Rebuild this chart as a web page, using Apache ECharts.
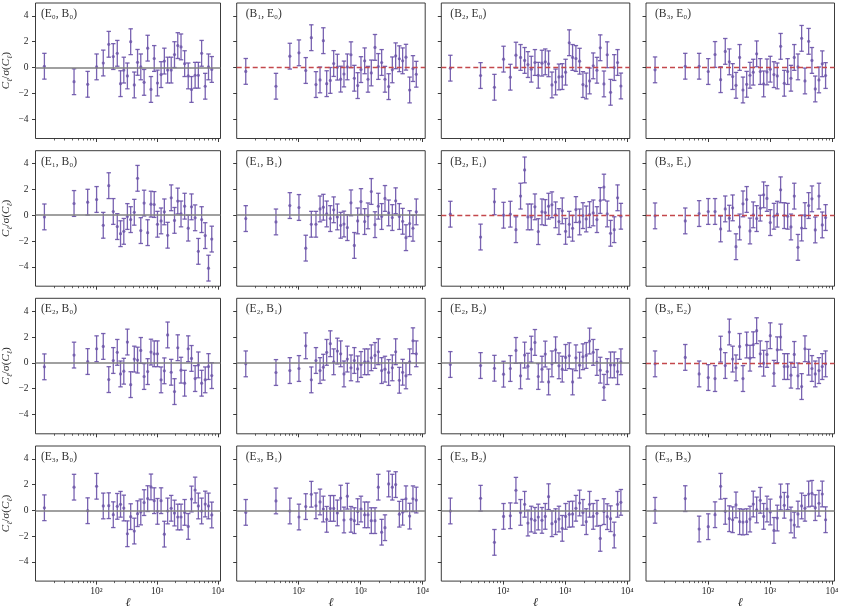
<!DOCTYPE html>
<html><head><meta charset="utf-8">
<script src="https://cdn.jsdelivr.net/npm/echarts@6/dist/echarts.min.js"></script>
<style>html,body{margin:0;padding:0;background:#fff}#c{width:843px;height:610px}</style>
</head><body><div id="c"></div>
<script>
// multipole bin centres (shared by all panels)
const ells = [14, 43, 72, 101, 130, 160, 190, 221, 250, 283, 324, 367, 421, 476, 538, 610, 698, 791, 895, 1012, 1160, 1313, 1486, 1703, 1928, 2181, 2468, 2829, 3243, 3670, 4209, 4757, 5383, 6170, 6982, 7900];
const sigma = 1; // values are in units of sigma(C_l)

const panelLabels = [
  '(E₀, B₀)', '(B₁, E₀)', '(B₂, E₀)', '(B₃, E₀)',
  '(E₁, B₀)', '(E₁, B₁)', '(B₂, E₁)', '(B₃, E₁)',
  '(E₂, B₀)', '(E₂, B₁)', '(E₂, B₂)', '(B₃, E₂)',
  '(E₃, B₀)', '(E₃, B₁)', '(E₃, B₂)', '(E₃, B₃)'
];

const E0B0 = [0.1, -1.1, -1.3, 0.05, 0.35, 1.8, 0.85, 1.1, -1.25, -0.2, -0.65, 2.0, -1.35, 0.4, 0.05, -1.15, 1.5, -1.7, 0.7, -1.2, -0.55, 0.5, -0.2, -0.2, 1.0, 1.7, 1.6, 0.3, -0.65, -1.7, -0.6, -0.6, 1.1, -1.45, 0.05, -0.15];
const B1E0 = [-0.3, -1.45, 0.88, 1.14, -0.23, 2.31, -1.32, -0.96, 2.08, -1.25, -1.0, 0.31, 0.03, -0.9, -0.5, 0.05, 0.99, -0.83, -1.4, -0.16, 0.52, -0.91, -0.42, 1.56, 0.08, 0.39, -0.91, -1.48, -0.18, 0.91, 0.68, 0.52, 0.8, -1.74, -0.08, -0.52];
const B2E0 = [-0.05, -0.62, -1.53, 0.65, -0.75, 0.96, 0.78, 0.55, 0.23, -0.13, 0.39, -0.6, 0.34, 0.44, 0.29, -1.35, -1.12, -0.73, -0.7, -0.36, 1.92, 0.78, 0.7, 0.49, -1.32, -1.43, -1.04, 0.13, -0.21, 1.53, -1.27, 0.99, -1.92, 0.0, 0.39, -1.43];
const B3E0 = [-0.18, 0.1, 0.1, -0.31, 1.01, -0.94, 1.25, 0.44, -0.7, -1.38, 0.78, -1.74, -1.3, -0.6, -0.36, 1.06, -0.31, -1.27, -0.34, -0.13, -0.55, -0.65, 1.64, -1.22, -0.31, -0.83, 0.78, 0.05, 2.26, -1.04, 2.03, 0.55, -1.66, -0.96, 0.29, -0.62];
const E1B0 = [-0.13, 0.91, 1.01, 1.22, -0.78, 2.29, 0.29, -0.88, -1.43, -1.25, -0.1, -0.34, 0.23, 2.86, -1.19, 0.94, -1.35, 0.86, 0.83, -0.7, -0.44, 0.26, -1.55, 1.35, -0.4, 1.1, 0.1, 0.7, -1.0, 0.65, -0.2, -2.8, -0.34, -1.58, -4.1, -1.85];
const E1B1 = [-0.26, -0.52, 0.75, 0.6, -2.55, -0.7, -0.7, 0.49, 0.62, 0.1, -0.26, 0.42, -0.13, -0.78, -0.68, -0.96, 0.96, -2.34, -0.44, 1.06, -0.49, -0.05, 1.84, -0.73, 0.7, -0.1, 1.3, 0.18, -0.18, 1.12, -0.1, -0.47, -1.74, -0.65, -1.01, 0.26];
const B2E1 = [0.08, -1.69, 1.04, 0, 0.08, -1.12, 1.48, 3.51, -0.13, -0.13, 0.65, -1.27, 0.26, 0.21, 0.7, 0.81, 0.03, -0.49, 0.34, -1.25, -0.7, -1.01, 0.44, -0.52, -0.03, -0.29, 0.05, 0.18, -0.34, 1.14, 2.18, 0.1, -1.4, -1.12, 1.35, -0.08];
const B3E1 = [-0.05, -0.44, 0.13, 0.29, 0.29, -1.06, 0.49, -0.23, 0.57, -2.44, -0.91, 0.88, 1.22, -1.22, 0.03, -0.26, 0.55, 1.58, 1.3, -0.57, -0.08, 0.08, 1.97, -0.03, -0.08, -0.91, 1.48, -2.49, -0.99, -0.03, 0.75, 1.27, -1.14, 1.48, -0.75, -0.18];
const E2B0 = [-0.31, 0.6, 0.1, 1.09, 1.27, -1.3, 0.18, 0.81, -0.86, -0.65, 1.61, -1.69, 0.29, 0.21, 0.96, -1.06, -0.68, 0.83, 0.7, 0.7, -1.32, -0.62, 2.16, -0.73, -2.23, 1.17, -0.57, -1.58, 1.09, 0.34, -1.22, -0.16, -1.58, -1.32, -0.29, -0.99];
const E2B1 = [-0.08, -0.75, -0.6, -0.44, 1.32, -1.32, 0.18, -0.6, -0.34, 0.81, 1.48, 0.08, 0.91, 0.7, -0.86, 0.29, -0.39, 0.18, -0.47, -0.13, 0.08, 0.08, 0.39, 0.57, 0.86, -0.6, -0.49, -0.75, -0.39, 0.86, -1.35, -0.73, -1.01, 0.08, 1.71, 0.7];
const E2B2 = [-0.13, -0.21, -0.42, -0.88, -0.44, 0.96, -1.01, 0.6, -0.26, 1.06, 1.58, -1.06, -0.49, 0.68, -1.48, -0.08, 1.01, -0.23, -0.49, 0.42, 0.55, -1.48, 0.39, -0.18, 0.47, 0.57, 1.69, 0.81, 0.03, -0.57, -1.9, -0.68, -0.16, -0.16, -0.68, 0.08];
const B3E2 = [-0.08, 0.42, -0.86, -1.14, -1.22, 1.06, -0.21, 2.39, 0.29, -0.39, 1.27, -1.22, 1.38, 0.36, 1.4, 2.49, 0.7, -0.03, 0.65, 2.1, -0.81, 1.01, 2.0, -0.29, -0.29, -0.96, 0.65, -1.01, -1.84, 1.09, 0.05, -0.44, -0.86, -0.6, -0.29, -0.08];
const E3B0 = [0.2, 1.8, -0.03, 1.87, 0.34, 0.36, -0.34, 0.31, 0.47, 0.18, -1.82, -0.49, -1.61, -0.26, -0.13, 0.6, 0.91, 1.82, 0.75, -0.08, 0.75, -1.85, -0.05, 0.16, -0.21, -0.52, -0.52, -0.16, -1.25, 0.88, 1.58, 0.34, -0.05, 0.49, 0.34, -0.36];
const E3B1 = [-0.16, 0.73, -0.05, -0.52, 0.29, 1.25, 0.35, 0.65, 0.1, -0.7, 0.15, 0.15, -0.2, 0.95, -0.75, 1.1, -0.7, -0.8, -0.1, 0.1, -0.35, -0.35, -0.8, -0.8, 1.8, -1.7, -1.35, 2.05, 1.8, 2.0, -0.3, -0.15, 0.9, -0.45, 0.9, 0.8];
const E3B2 = [-0.05, 0.94, -2.49, -0.47, -0.42, 1.56, -0.16, 0.47, -0.99, -0.68, -0.78, -0.52, -0.78, -0.47, 1.06, -1.04, -0.88, -0.68, -1.4, -0.47, -0.31, -0.29, 0.16, 0.57, -0.16, -0.88, 0.47, -0.47, -0.23, -2.18, -0.1, -0.49, -0.65, -1.92, 0.47, 0.62];
const E3B3 = [0.0, 0.91, -1.45, -1.27, -0.34, 1.87, -0.08, -0.65, -0.73, 0.42, -0.88, -0.91, -0.88, -0.68, 0.49, 0.03, 0.78, -0.47, 0.1, -0.13, -1.56, -0.6, 1.04, 0.39, 1.06, -0.75, -1.14, -0.29, 0.34, 0.16, 1.27, 1.32, 0.21, 0.55, 1.27, -0.73];

const panelValues = [E0B0, B1E0, B2E0, B3E0, E1B0, E1B1, B2E1, B3E1, E2B0, E2B1, E2B2, B3E2, E3B0, E3B1, E3B2, E3B3];

const xMajorTicks = [100, 1000, 10000];
const xMajorLabels = {100: '10²', 1000: '10³', 10000: '10⁴'};
const xMinorTicks = [20, 30, 40, 50, 60, 70, 80, 90, 200, 300, 400, 500, 600, 700, 800, 900, 2000, 3000, 4000, 5000, 6000, 7000, 8000, 9000];
const yTicks = [-4, -2, 0, 2, 4];

const chart = echarts.init(document.getElementById('c'), null, {renderer: 'canvas'});
const SERIF = "'Liberation Serif', 'DejaVu Serif', serif";
const PURPLE = '#6a52a8';
const lefts = [32, 236.7, 441.3, 646];
const tops = [3, 150.7, 298.3, 446];
const W = 188.5, H = 135.5;

const grids = [], xAxes = [], yAxes = [], series = [], graphics = [];
for (let p = 0; p < 16; p++) {
  const r = Math.floor(p / 4), c = p % 4;
  grids.push({left: lefts[c], top: tops[r], width: W, height: H, show: true,
    borderColor: '#262626', borderWidth: 0.9, backgroundColor: 'transparent'});
  const bottomRow = r === 3;
  xAxes.push({
    type: 'log', logBase: 10, gridIndex: p, min: 10, max: 11000, position: 'bottom',
    axisLine: {show: false, onZero: false},
    axisTick: {show: true, customValues: xMajorTicks, length: 3.5, lineStyle: {color: '#262626', width: 0.9}},
    axisLabel: {show: bottomRow, customValues: xMajorTicks, margin: 5, fontFamily: SERIF, fontSize: 9.5, color: '#262626',
      formatter: v => xMajorLabels[Math.round(v)] || ''},
    splitLine: {show: false},
    name: bottomRow ? 'ℓ' : '', nameLocation: 'middle', nameGap: 12,
    nameTextStyle: {fontFamily: SERIF, fontStyle: 'italic', fontSize: 12, color: '#262626'}
  });
  xAxes.push({
    type: 'log', logBase: 10, gridIndex: p, min: 10, max: 11000, position: 'bottom',
    axisLine: {show: false, onZero: false},
    axisTick: {show: true, customValues: xMinorTicks, length: 2, lineStyle: {color: '#262626', width: 0.7}},
    axisLabel: {show: false}, splitLine: {show: false}
  });
  const leftCol = c === 0;
  yAxes.push({
    type: 'value', gridIndex: p, min: -5.5, max: 5,
    axisLine: {show: false, onZero: false},
    axisTick: {show: true, customValues: yTicks, length: 3.5, lineStyle: {color: '#262626', width: 0.9}},
    axisLabel: {show: leftCol, customValues: yTicks, margin: 7, fontFamily: SERIF, fontSize: 9.5, color: '#262626',
      formatter: v => v < 0 ? '−' + Math.abs(v) : String(v)},
    splitLine: {show: false},
    name: leftCol ? '{i|C}{s|ℓ}{n|/σ(}{i|C}{s|ℓ}{n|)}' : '', nameLocation: 'middle', nameGap: 17, nameRotate: 90,
    nameTextStyle: {color: '#262626', rich: {
      i: {fontFamily: SERIF, fontStyle: 'italic', fontSize: 11, lineHeight: 16, verticalAlign: 'middle', color: '#262626'},
      n: {fontFamily: SERIF, fontSize: 11, lineHeight: 16, verticalAlign: 'middle', color: '#262626'},
      s: {fontFamily: SERIF, fontStyle: 'italic', fontSize: 7.5, lineHeight: 8, verticalAlign: 'bottom', color: '#262626'}
    }}
  });
  const vals = panelValues[p];
  const data = ells.map((l, k) => [l, vals[k]]);
  const isB = panelLabels[p].charAt(1) === 'B';
  series.push({
    type: 'custom', xAxisIndex: 2 * p, yAxisIndex: p, data: data, z: 3, clip: false,
    renderItem: function (params, api) {
      const x = api.value(0), y = api.value(1);
      const t = api.coord([x, y + sigma]);
      const b = api.coord([x, y - sigma]);
      const cw = 2.2;
      const st = {stroke: PURPLE, lineWidth: 1.3, opacity: 0.9};
      return {type: 'group', children: [
        {type: 'line', shape: {x1: t[0], y1: t[1], x2: b[0], y2: b[1]}, style: st},
        {type: 'line', shape: {x1: t[0] - cw, y1: t[1], x2: t[0] + cw, y2: t[1]}, style: st},
        {type: 'line', shape: {x1: b[0] - cw, y1: b[1], x2: b[0] + cw, y2: b[1]}, style: st}
      ]};
    }
  });
  series.push({
    type: 'scatter', xAxisIndex: 2 * p, yAxisIndex: p, data: data, symbol: 'circle', symbolSize: 3.2,
    itemStyle: {color: PURPLE}, z: 4, silent: true,
    markLine: {silent: true, symbol: ['none', 'none'], label: {show: false}, z: 5,
      lineStyle: isB ? {color: '#c4484c', width: 1.4, type: [5, 3], opacity: 1} : {color: '#808080', width: 1.5, type: 'solid', opacity: 1},
      emphasis: {disabled: true},
      data: [{yAxis: 0, lineStyle: isB ? {color: '#c4484c', width: 1.4, type: [5, 3], opacity: 1} : {color: '#808080', width: 1.5, type: 'solid', opacity: 1}}]}
  });
  graphics.push({type: 'text', left: lefts[c] + 9, top: tops[r] + 5,
    style: {text: panelLabels[p], fontFamily: SERIF, fontSize: 11.5, fill: '#333'}});
}

chart.setOption({
  animation: false,
  backgroundColor: '#fff',
  grid: grids, xAxis: xAxes, yAxis: yAxes, series: series, graphic: graphics
});
</script>
</body></html>
